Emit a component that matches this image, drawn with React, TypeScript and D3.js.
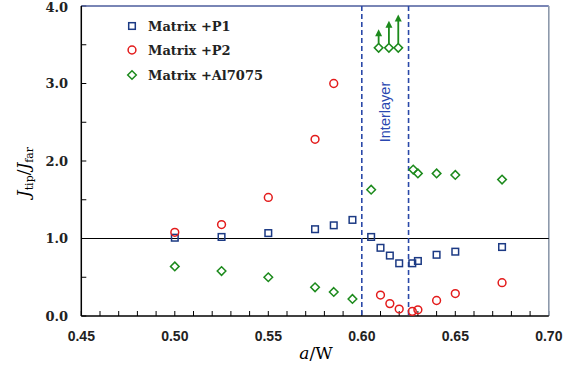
import React from "react";
import * as d3 from "d3";

const p1X = [0.5, 0.525, 0.55, 0.575, 0.585, 0.595, 0.605, 0.61, 0.615, 0.62, 0.627, 0.63, 0.64, 0.65, 0.675];
const p1Y = [1.01, 1.02, 1.07, 1.12, 1.17, 1.24, 1.02, 0.88, 0.78, 0.68, 0.68, 0.71, 0.79, 0.83, 0.89];

const p2X = [0.5, 0.525, 0.55, 0.575, 0.585, 0.61, 0.615, 0.62, 0.627, 0.63, 0.64, 0.65, 0.675];
const p2Y = [1.08, 1.18, 1.53, 2.28, 3.0, 0.27, 0.16, 0.09, 0.06, 0.08, 0.2, 0.29, 0.43];

const alX = [0.5, 0.525, 0.55, 0.575, 0.585, 0.595, 0.605, 0.6275, 0.63, 0.64, 0.65, 0.675];
const alY = [0.64, 0.58, 0.5, 0.37, 0.31, 0.22, 1.63, 1.89, 1.84, 1.84, 1.82, 1.76];

// lower-bound points with upward arrows
const arrowX = [0.609, 0.6145, 0.6195];
const arrowBase = [3.46, 3.46, 3.46];
const arrowTip = [3.7, 3.81, 3.89];

const xTicks = [0.45, 0.5, 0.55, 0.6, 0.65, 0.7];
const yTicks = [0, 1, 2, 3, 4];
const interlayer = [0.6, 0.625];
const legendLabels = ["Matrix +P1", "Matrix +P2", "Matrix +Al7075"];

const BLUE = "#1c3a84";
const RED = "#e31b1b";
const GREEN = "#1c8a1c";

export default function App() {
  const W = 564, H = 368;
  const x = d3.scaleLinear().domain([0.45, 0.7]).range([81.3, 548.8]);
  const y = d3.scaleLinear().domain([0, 4]).range([316, 6]);
  const minorX = d3.range(0.45, 0.7001, 0.01);
  const minorY = d3.range(0, 4.001, 0.5);
  const [x0, x1] = x.range();
  const [y0, y1] = y.range();

  const square = (cx: number, cy: number, k: string) => (
    <rect key={k} x={cx - 3.3} y={cy - 3.3} width={6.6} height={6.6} fill="none" stroke={BLUE} strokeWidth={1.5} />
  );
  const circle = (cx: number, cy: number, k: string) => (
    <circle key={k} cx={cx} cy={cy} r={3.9} fill="none" stroke={RED} strokeWidth={1.5} />
  );
  const diamond = (cx: number, cy: number, k: string) => (
    <path key={k} d={`M${cx},${cy - 4.3}L${cx + 4.3},${cy}L${cx},${cy + 4.3}L${cx - 4.3},${cy}Z`} fill="none" stroke={GREEN} strokeWidth={1.5} />
  );

  const serif = "'DejaVu Serif', 'Liberation Serif', serif";
  const sans = "'Liberation Sans', Arial, sans-serif";

  return (
    <svg width={W} height={H} style={{ position: "absolute", left: 0, top: 0 }}>
      <rect x={0} y={0} width={W} height={H} fill="#fff" />

      {/* minor ticks */}
      {minorX.map((v, i) => (
        <line key={"mx" + i} x1={x(v)} x2={x(v)} y1={y0} y2={y0 - 5} stroke="#000" strokeWidth={1} />
      ))}
      {minorY.map((v, i) => (
        <line key={"my" + i} x1={x0} x2={x0 + 5} y1={y(v)} y2={y(v)} stroke="#000" strokeWidth={1} />
      ))}

      {/* frame */}
      <line x1={x0} x2={x1} y1={y1} y2={y1} stroke="#4d5c9c" strokeWidth={1.3} />
      <line x1={x1} x2={x1} y1={y1} y2={y0} stroke="#8d99ab" strokeWidth={1.6} />
      <line x1={x0} x2={x1} y1={y0} y2={y0} stroke="#000" strokeWidth={1.5} />
      <line x1={x0} x2={x0} y1={y1} y2={y0} stroke="#000" strokeWidth={1.5} />

      {/* reference line at 1.0 */}
      <line x1={x0} x2={x1} y1={y(1)} y2={y(1)} stroke="#000" strokeWidth={1.2} />

      {/* interlayer */}
      {interlayer.map((v, i) => (
        <line key={"il" + i} x1={x(v)} x2={x(v)} y1={y1} y2={y0} stroke="#2a48a8" strokeWidth={1.6} strokeDasharray="5,3" />
      ))}
      <text
        transform={`translate(${(x(0.6) + x(0.625)) / 2 + 5},${112}) rotate(-90)`}
        textAnchor="middle"
        fontFamily={sans}
        fontSize={14.5}
        fill="#2a48b0"
      >
        Interlayer
      </text>

      {/* tick labels */}
      {xTicks.map((v, i) => (
        <text key={"xt" + i} x={x(v)} y={341} textAnchor="middle" fontFamily={sans} fontSize={14} fontWeight="bold" fill="#222">
          {v.toFixed(2)}
        </text>
      ))}
      {yTicks.map((v, i) => (
        <text key={"yt" + i} x={68} y={Math.max(y(v) + 4.5, 12)} textAnchor="end" fontFamily={serif} fontSize={13} fontWeight="bold" fill="#222">
          {v.toFixed(1)}
        </text>
      ))}

      {/* axis titles */}
      <text x={316} y={359} textAnchor="middle" fontFamily={serif} fontSize={17} fill="#000">
        <tspan fontStyle="italic">a</tspan>/W
      </text>
      <text transform={`translate(29,${172}) rotate(-90)`} textAnchor="middle" fontFamily={serif} fontSize={17} fill="#000">
        <tspan fontStyle="italic">J</tspan>
        <tspan fontSize={11} dy={4}>tip</tspan>
        <tspan dy={-4}>/</tspan>
        <tspan fontStyle="italic">J</tspan>
        <tspan fontSize={11} dy={4}>far</tspan>
      </text>

      {/* arrows */}
      {arrowX.map((v, i) => {
        const ax = x(v);
        const tip = y(arrowTip[i]);
        return (
          <g key={"ar" + i}>
            <line x1={ax} x2={ax} y1={y(arrowBase[i]) - 4} y2={tip + 5} stroke={GREEN} strokeWidth={1.8} />
            <path d={`M${ax},${tip}L${ax + 3.5},${tip + 7}L${ax - 3.5},${tip + 7}Z`} fill={GREEN} />
          </g>
        );
      })}

      {/* data */}
      {p1X.map((v, i) => square(x(v), y(p1Y[i]), "s" + i))}
      {p2X.map((v, i) => circle(x(v), y(p2Y[i]), "c" + i))}
      {alX.map((v, i) => diamond(x(v), y(alY[i]), "d" + i))}
      {arrowX.map((v, i) => diamond(x(v), y(arrowBase[i]), "ad" + i))}

      {/* legend */}
      {square(132, 26, "ls")}
      {circle(132, 50, "lc")}
      {diamond(132, 75, "ld")}
      {legendLabels.map((t, i) => (
        <text key={"lg" + i} x={148} y={[26, 50, 75][i] + 5} fontFamily={serif} fontSize={13} fontWeight="bold" fill="#222">
          {t}
        </text>
      ))}
    </svg>
  );
}
